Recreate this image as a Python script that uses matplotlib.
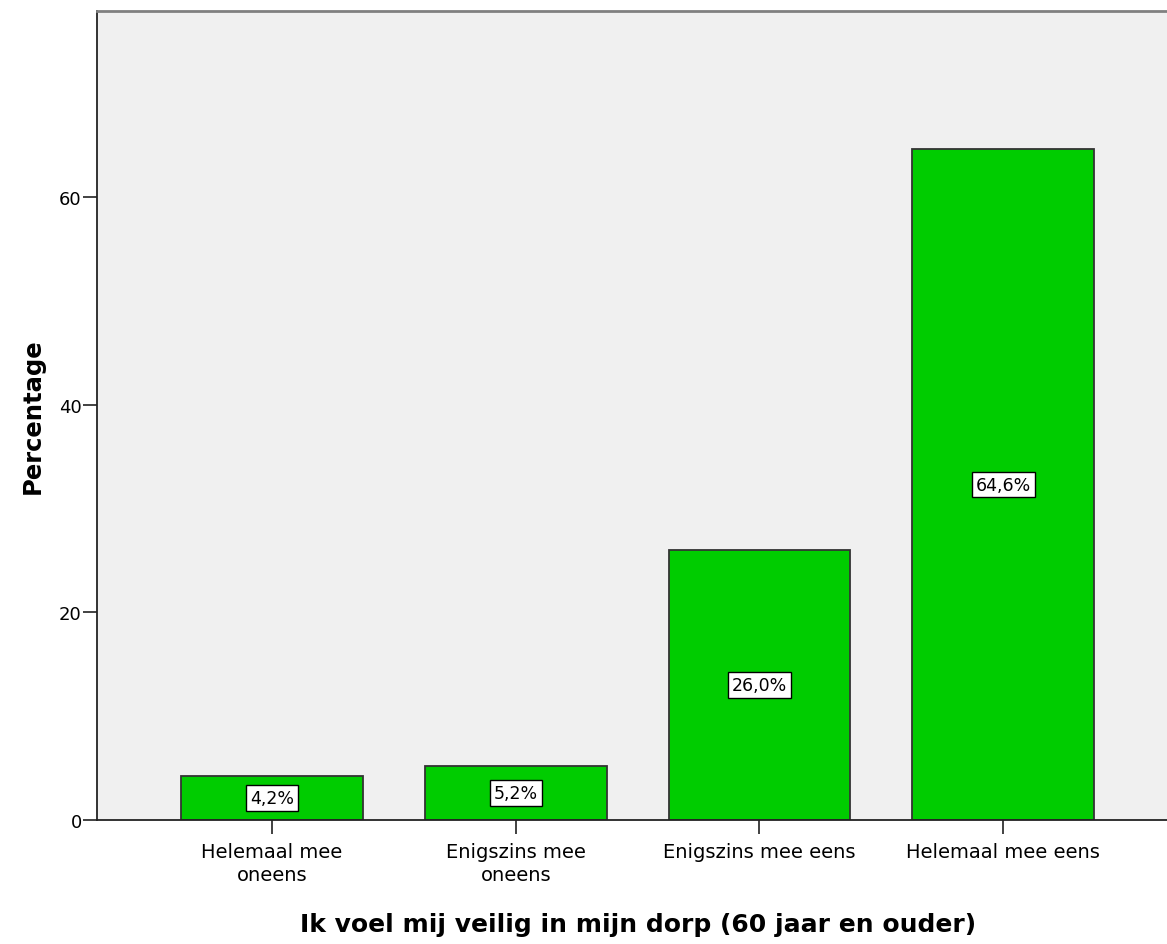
import matplotlib
matplotlib.use("Agg")
import matplotlib.pyplot as plt
import numpy as np

categories = ["Helemaal mee\noneens", "Enigszins mee\noneens", "Enigszins mee eens", "Helemaal mee eens"]
values = [4.2, 5.2, 26.0, 64.6]
labels = ["4,2%", "5,2%", "26,0%", "64,6%"]
yticks = [0, 20, 40, 60]

plt.rcParams['font.family'] = ['DejaVu Sans']

fig = plt.figure(figsize=(11.67, 9.45), dpi=100)
ax = fig.add_axes([97/1167, 124/945, 1 - 97/1167 + 0.01, (821-12)/945])
ax.set_facecolor("#f0f0f0")

x = np.arange(len(categories))
bars = ax.bar(x, values, width=0.745, color="#00cc00", edgecolor="#333333", linewidth=1.3, zorder=2)

for xi, v, lab in zip(x, values, labels):
    ax.text(xi, v / 2, lab, ha="center", va="center", fontsize=12.5, color="black",
            bbox=dict(boxstyle="square,pad=0.22", facecolor="white", edgecolor="black", linewidth=1),
            zorder=3)

ax.set_xlim(-0.718, 3.72)
ax.set_ylim(0, 77.9)
ax.set_xticks(x)
ax.set_xticklabels(categories, fontsize=14, linespacing=1.25)
ax.set_yticks(yticks)
ax.set_yticklabels([str(t) for t in yticks], fontsize=13)
ax.tick_params(axis="both", direction="out", length=10, width=1.3, color="#333333")
ax.tick_params(axis="x", pad=6)
ax.tick_params(axis="y", pad=1)

ax.spines["left"].set_color("#222222")
ax.spines["left"].set_linewidth(1.3)
ax.spines["bottom"].set_color("#222222")
ax.spines["bottom"].set_linewidth(1.3)
ax.spines["top"].set_color("#808080")
ax.spines["top"].set_linewidth(2)
ax.spines["right"].set_visible(False)

ax.set_ylabel("Percentage", fontsize=17.5, fontweight="bold", labelpad=10)
ax.set_xlabel("Ik voel mij veilig in mijn dorp (60 jaar en ouder)", fontsize=18, fontweight="bold", labelpad=20)

fig.savefig("out.png", dpi=100)
